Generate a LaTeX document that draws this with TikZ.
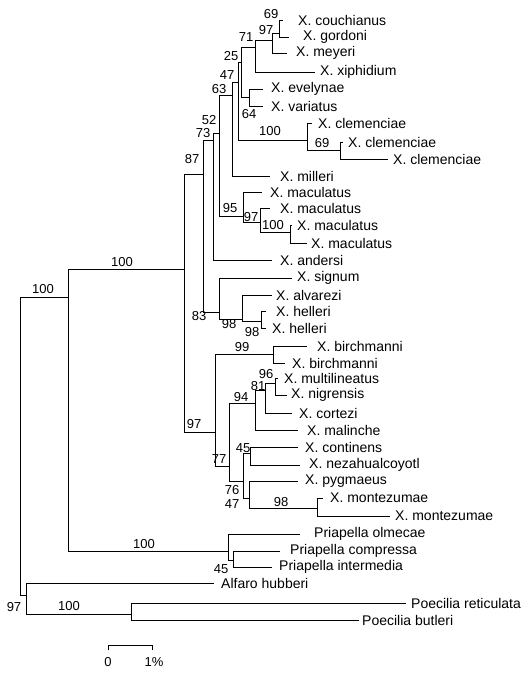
\documentclass[tikz,border=0pt]{standalone}
\usepackage{fontspec}
\setmainfont{Liberation Sans}
\begin{document}
\begin{tikzpicture}[x=1pt,y=-1pt,
  br/.style={line width=0.7pt},
  leaf/.style={anchor=west,inner sep=0pt,font=\fontsize{14}{14}\selectfont},
  bs/.style={inner sep=0pt,font=\fontsize{13}{13}\selectfont}]
\useasboundingbox (0,0) rectangle (532,674);
% ---------- internal nodes (x, incoming y)
\coordinate (root) at (20,297);
\coordinate (nXP) at (68,297);
\coordinate (nX) at (184,269);
\coordinate (n87) at (203,174);
\coordinate (n73) at (213,140);
\coordinate (n52) at (219,133);
\coordinate (n63) at (232,95);
\coordinate (n47) at (238,82);
\coordinate (n25) at (241,62);
\coordinate (n71) at (255,47);
\coordinate (n97a) at (272,40);
\coordinate (n69) at (279,33);
\coordinate (n64) at (249,97);
\coordinate (n100c) at (307,140);
\coordinate (n69c) at (340,150);
\coordinate (n95) at (243,216);
\coordinate (n97m) at (260,222);
\coordinate (n100m) at (290,232);
\coordinate (n83) at (219,312);
\coordinate (n98a) at (242,319);
\coordinate (n98h) at (261,321);
\coordinate (n97x) at (215,432);
\coordinate (n99) at (273,354);
\coordinate (n77) at (229,466);
\coordinate (n94) at (255,403);
\coordinate (n81) at (265,390);
\coordinate (n96) at (275,383);
\coordinate (n76) at (243,481);
\coordinate (n45x) at (250,453);
\coordinate (n47x) at (249,498);
\coordinate (n98m) at (317,508);
\coordinate (nPri) at (228,551);
\coordinate (n45p) at (233,560);
\coordinate (nAP) at (26,595);
\coordinate (nPo) at (131,614);
% ---------- leaf tips
\coordinate (t1) at (283,20);
\coordinate (t2) at (289,37);
\coordinate (t3) at (287,53);
\coordinate (t4) at (315,72);
\coordinate (t5) at (263,89);
\coordinate (t6) at (263,106);
\coordinate (t7) at (312,123);
\coordinate (t8) at (343,142);
\coordinate (t9) at (388,159);
\coordinate (t10) at (270,176);
\coordinate (t11) at (262,192);
\coordinate (t12) at (270,208);
\coordinate (t13) at (292,225);
\coordinate (t14) at (307,243);
\coordinate (t15) at (272,260);
\coordinate (t16) at (292,278);
\coordinate (t17) at (272,295);
\coordinate (t18) at (266,311);
\coordinate (t19) at (266,328);
\coordinate (t20) at (307,346);
\coordinate (t21) at (285,363);
\coordinate (t22) at (278,378);
\coordinate (t23) at (287,395);
\coordinate (t24) at (292,413);
\coordinate (t25) at (298,430);
\coordinate (t26) at (298,447);
\coordinate (t27) at (300,465);
\coordinate (t28) at (298,481);
\coordinate (t29) at (323,498);
\coordinate (t30) at (390,516);
\coordinate (t31) at (300,534);
\coordinate (t32) at (280,551);
\coordinate (t33) at (272,567);
\coordinate (t34) at (214,583);
\coordinate (t35) at (406,603);
\coordinate (t36) at (359,620);
% ---------- leaf labels
\node[leaf] (l1) at (298,20) {X. couchianus};
\node[leaf] (l2) at (303,37) {X. gordoni};
\node[leaf] (l3) at (296,53) {X. meyeri};
\node[leaf] (l4) at (320,72) {X. xiphidium};
\node[leaf] (l5) at (271,89) {X. evelynae};
\node[leaf] (l6) at (271,106) {X. variatus};
\node[leaf] (l7) at (318,123) {X. clemenciae};
\node[leaf] (l8) at (348,142) {X. clemenciae};
\node[leaf] (l9) at (393,159) {X. clemenciae};
\node[leaf] (l10) at (280,176) {X. milleri};
\node[leaf] (l11) at (270,192) {X. maculatus};
\node[leaf] (l12) at (280,208) {X. maculatus};
\node[leaf] (l13) at (297,225) {X. maculatus};
\node[leaf] (l14) at (311,243) {X. maculatus};
\node[leaf] (l15) at (280,260) {X. andersi};
\node[leaf] (l16) at (297,278) {X. signum};
\node[leaf] (l17) at (276,295) {X. alvarezi};
\node[leaf] (l18) at (276,311) {X. helleri};
\node[leaf] (l19) at (272,328) {X. helleri};
\node[leaf] (l20) at (317,346) {X. birchmanni};
\node[leaf] (l21) at (292,363) {X. birchmanni};
\node[leaf] (l22) at (284,378) {X. multilineatus};
\node[leaf] (l23) at (291,395) {X. nigrensis};
\node[leaf] (l24) at (299,413) {X. cortezi};
\node[leaf] (l25) at (307,430) {X. malinche};
\node[leaf] (l26) at (305,447) {X. continens};
\node[leaf] (l27) at (309,465) {X. nezahualcoyotl};
\node[leaf] (l28) at (305,481) {X. pygmaeus};
\node[leaf] (l29) at (330,498) {X. montezumae};
\node[leaf] (l30) at (395,516) {X. montezumae};
\node[leaf] (l31) at (314,534) {Priapella olmecae};
\node[leaf] (l32) at (290,551) {Priapella compressa};
\node[leaf] (l33) at (279,567) {Priapella intermedia};
\node[leaf] (l34) at (221,583) {Alfaro hubberi};
\node[leaf] (l35) at (411,603) {Poecilia reticulata};
\node[leaf] (l36) at (362,620) {Poecilia butleri};
% ---------- branches
\draw[br] (root) |- (nXP);
\draw[br] (root) |- (nAP);
\draw[br] (nXP) |- (nX);
\draw[br] (nXP) |- (nPri);
\draw[br] (nX) |- (n87);
\draw[br] (nX) |- (n97x);
\draw[br] (n87) |- (n73);
\draw[br] (n87) |- (n83);
\draw[br] (n73) |- (n52);
\draw[br] (n73) |- (t15);
\draw[br] (n52) |- (n63);
\draw[br] (n52) |- (n95);
\draw[br] (n63) |- (n47);
\draw[br] (n63) |- (t10);
\draw[br] (n47) |- (n25);
\draw[br] (n47) |- (n100c);
\draw[br] (n25) |- (n71);
\draw[br] (n25) |- (n64);
\draw[br] (n71) |- (n97a);
\draw[br] (n71) |- (t4);
\draw[br] (n97a) |- (n69);
\draw[br] (n97a) |- (t3);
\draw[br] (n69) |- (t1);
\draw[br] (n69) |- (t2);
\draw[br] (n64) |- (t5);
\draw[br] (n64) |- (t6);
\draw[br] (n100c) |- (t7);
\draw[br] (n100c) |- (n69c);
\draw[br] (n69c) |- (t8);
\draw[br] (n69c) |- (t9);
\draw[br] (n95) |- (t11);
\draw[br] (n95) |- (n97m);
\draw[br] (n97m) |- (t12);
\draw[br] (n97m) |- (n100m);
\draw[br] (n100m) |- (t13);
\draw[br] (n100m) |- (t14);
\draw[br] (n83) |- (t16);
\draw[br] (n83) |- (n98a);
\draw[br] (n98a) |- (t17);
\draw[br] (n98a) |- (n98h);
\draw[br] (n98h) |- (t18);
\draw[br] (n98h) |- (t19);
\draw[br] (n97x) |- (n99);
\draw[br] (n97x) |- (n77);
\draw[br] (n99) |- (t20);
\draw[br] (n99) |- (t21);
\draw[br] (n77) |- (n94);
\draw[br] (n77) |- (n76);
\draw[br] (n94) |- (n81);
\draw[br] (n94) |- (t25);
\draw[br] (n81) |- (n96);
\draw[br] (n81) |- (t24);
\draw[br] (n96) |- (t22);
\draw[br] (n96) |- (t23);
\draw[br] (n76) |- (n45x);
\draw[br] (n76) |- (n47x);
\draw[br] (n45x) |- (t26);
\draw[br] (n45x) |- (t27);
\draw[br] (n47x) |- (t28);
\draw[br] (n47x) |- (n98m);
\draw[br] (n98m) |- (t29);
\draw[br] (n98m) |- (t30);
\draw[br] (nPri) |- (t31);
\draw[br] (nPri) |- (n45p);
\draw[br] (n45p) |- (t32);
\draw[br] (n45p) |- (t33);
\draw[br] (nAP) |- (t34);
\draw[br] (nAP) |- (nPo);
\draw[br] (nPo) |- (t35);
\draw[br] (nPo) |- (t36);
% ---------- support values
\node[bs] (b1) at (271,14) {69};
\node[bs] (b2) at (266,30) {97};
\node[bs] (b3) at (246,37) {71};
\node[bs] (b4) at (231,56) {25};
\node[bs] (b5) at (227,75) {47};
\node[bs] (b6) at (219,89) {63};
\node[bs] (b7) at (249,114) {64};
\node[bs] (b8) at (209,120) {52};
\node[bs] (b9) at (203,133) {73};
\node[bs] (b10) at (270,131) {100};
\node[bs] (b11) at (322,143) {69};
\node[bs] (b12) at (192,159) {87};
\node[bs] (b13) at (230,208) {95};
\node[bs] (b14) at (251,217) {97};
\node[bs] (b15) at (273,225) {100};
\node[bs] (b16) at (199,316) {83};
\node[bs] (b17) at (229,324) {98};
\node[bs] (b18) at (252,332) {98};
\node[bs] (b19) at (242,347) {99};
\node[bs] (b20) at (266,374) {96};
\node[bs] (b21) at (258,386) {81};
\node[bs] (b22) at (241,397) {94};
\node[bs] (b23) at (194,424) {97};
\node[bs] (b24) at (219,459) {77};
\node[bs] (b25) at (243,448) {45};
\node[bs] (b26) at (232,490) {76};
\node[bs] (b27) at (232,504) {47};
\node[bs] (b28) at (281,502) {98};
\node[bs] (b29) at (122,262) {100};
\node[bs] (b30) at (43,289) {100};
\node[bs] (b31) at (144,544) {100};
\node[bs] (b32) at (221,569) {45};
\node[bs] (b33) at (14,607) {97};
\node[bs] (b34) at (69,606) {100};
% ---------- scale bar
\coordinate (s0) at (108,645);
\coordinate (s1) at (152,645);
\draw[br] ([yshift=-5pt]s0) -- (s0) -- (s1) -- ([yshift=-5pt]s1);
\node[bs] (sl0) at (108,662) {0};
\node[bs] (sl1) at (154,662) {1\%};
\end{tikzpicture}
\end{document}
